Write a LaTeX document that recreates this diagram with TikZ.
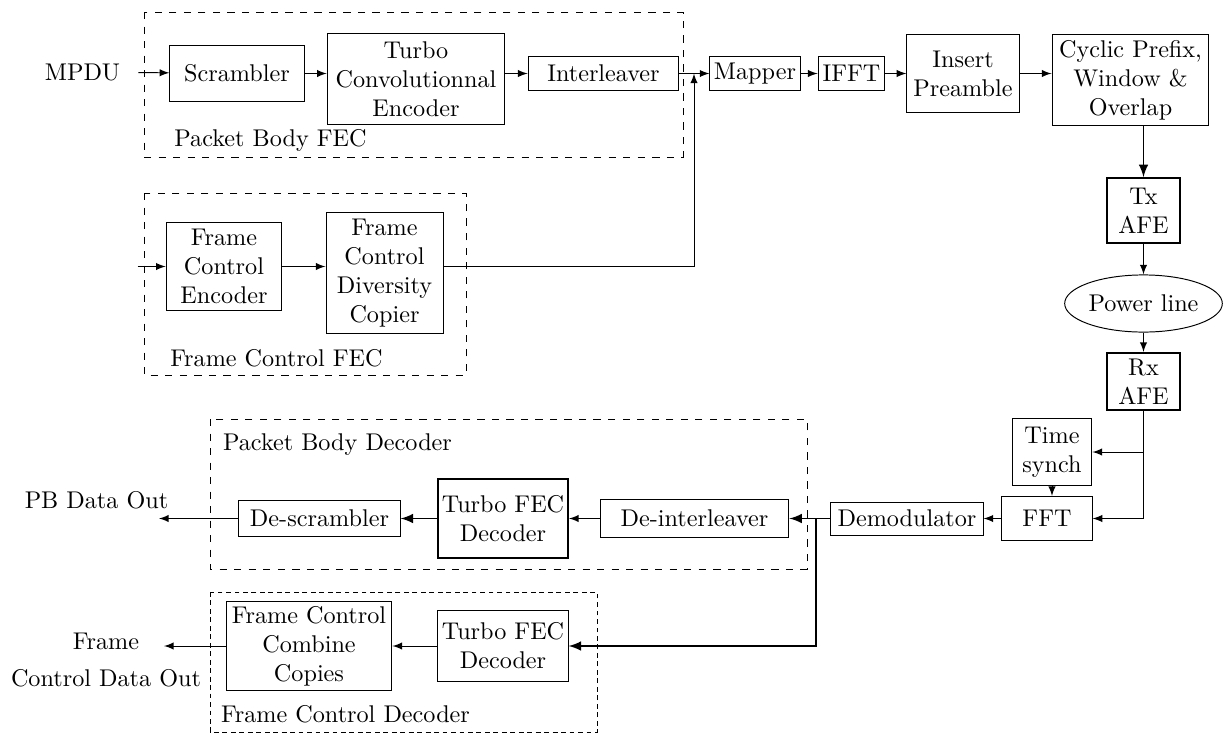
\documentclass[tikz,border=0pt]{standalone}
\usetikzlibrary{shapes.geometric}

\begin{document}
\begin{tikzpicture}[
      x=0.01452cm, y=-0.01452cm,
      blk/.style ={draw,align=center,inner sep=1pt},
      fatblk/.style ={blk,thick},
      grp/.style ={dashed},
      arr/.style ={->,>=latex},
      fatarr/.style ={arr,thick}
      ]
    \useasboundingbox (0,0) rectangle (1223,733);
    % transmitter
    \node (mpdu) at (82.5,72) {MPDU};
    \node[blk,minimum width=1.95cm,minimum height=0.80cm] (scr) at (237,73.5) {Scrambler};
    \node[blk,minimum width=2.58cm,minimum height=1.31cm] (tce) at (416,79) {Turbo\\Convolutionnal\\Encoder};
    \node[blk,minimum width=2.19cm,minimum height=0.48cm] (intl) at (603.5,73.5) {Interleaver};
    \node[blk,minimum width=1.31cm,minimum height=0.48cm] (mapper) at (755,73.5) {Mapper};
    \node[blk,minimum width=0.97cm,minimum height=0.48cm] (ifft) at (851.5,73.5) {IFFT};
    \node[blk,minimum width=1.63cm,minimum height=1.12cm] (preamble) at (963,73.5) {Insert\\Preamble};
    \node[blk,minimum width=2.28cm,minimum height=1.31cm] (cyclic) at (1130.5,80) {Cyclic Prefix,\\Window \&\\Overlap};
    \node[fatblk,minimum width=1.06cm,minimum height=0.94cm] (txafe) at (1143.5,210.5) {Tx\\AFE};
    \node[draw,ellipse,inner sep=0pt,minimum width=2.29cm,minimum height=0.83cm] (pline) at (1143.5,303.5) {Power line};
    \node[fatblk,minimum width=1.06cm,minimum height=0.83cm] (rxafe) at (1143.5,381.5) {Rx\\AFE};
    \node[blk,minimum width=1.16cm,minimum height=0.96cm] (tsync) at (1052,452) {Time\\synch};
    \node[blk,minimum width=1.31cm,minimum height=0.64cm] (fft) at (1047,518.5) {FFT};
    \node[blk,minimum width=2.21cm,minimum height=0.48cm] (demod) at (907,518.5) {Demodulator};
    \node[blk,minimum width=1.68cm,minimum height=1.29cm] (fcenc) at (224,266.5) {Frame\\Control\\Encoder};
    \node[blk,minimum width=1.70cm,minimum height=1.77cm] (fccopy) at (384.5,273) {Frame\\Control\\Diversity\\Copier};
    \coordinate (fcin) at (137.5,266.5);
    \coordinate (merge) at (694,73.5);
    % receiver
    \node[blk,minimum width=2.74cm,minimum height=0.54cm] (deintl) at (694.5,518.5) {De-interleaver};
    \node[fatblk,minimum width=1.89cm,minimum height=1.16cm] (tfecpb) at (503,518.5) {Turbo FEC\\Decoder};
    \node[blk,minimum width=2.34cm,minimum height=0.52cm] (descr) at (319.5,518.5) {De-scrambler};
    \node (pbout) at (96.5,500) {PB Data Out};
    \coordinate (pbend) at (159,518.5);
    \node[blk,minimum width=1.89cm,minimum height=1.03cm] (tfecfc) at (503,646) {Turbo FEC\\Decoder};
    \node[blk,minimum width=2.41cm,minimum height=1.28cm] (fccomb) at (309,646) {Frame Control\\Combine\\Copies};
    \node[align=center] (fcout) at (106,660) {Frame\\[3pt]Control Data Out};
    \coordinate (fcend) at (164,646);
    \coordinate (split) at (816,518.5);
    % groups
    \draw[grp] (144,12) rectangle (683,157);
    \node (pbfec) at (270.5,140) {Packet Body FEC};
    \draw[grp] (144,193) rectangle (466,375);
    \node (fcfec) at (276.5,358) {Frame Control FEC};
    \draw[grp] (210,419) rectangle (807,569);
    \node (pbdec) at (337.5,445) {Packet Body Decoder};
    \draw[dash pattern=on 2pt off 1.5pt] (210,592) rectangle (597,732);
    \node (fcdec) at (345.5,714) {Frame Control Decoder};
    % connections
    \draw[arr,shorten <=4pt] (mpdu) -- (scr);
    \draw[arr] (scr) -- (scr -| tce.west);
    \draw[arr] (intl -| tce.east) -- (intl);
    \draw[arr] (intl) -- (mapper);
    \draw[arr] (mapper) -- (ifft);
    \draw[arr] (ifft) -- (preamble);
    \draw[arr] (preamble) -- (preamble -| cyclic.west);
    \draw[fatarr] (cyclic.south -| txafe) -- (txafe);
    \draw[arr] (txafe) -- (pline);
    \draw[arr] (pline) -- (rxafe);
    \draw[arr] (rxafe) -- (rxafe |- fft) -- (fft);
    \draw[arr] (rxafe |- tsync) -- (tsync);
    \draw[arr] (tsync) -- (tsync |- fft.north);
    \draw[arr] (fft) -- (demod);
    \draw[fatarr] (demod) -- (deintl);
    \draw[fatarr] (split) |- (tfecfc);
    \draw[arr] (deintl) -- (tfecpb);
    \draw[fatarr] (tfecpb) -- (descr);
    \draw[arr] (descr) -- (pbend);
    \draw[arr] (fcin) -- (fcenc);
    \draw[arr] (fcenc) -- (fcenc -| fccopy.west);
    \draw[arr] (fcenc -| fccopy.east) -| (merge);
    \draw[arr] (tfecfc) -- (fccomb);
    \draw[arr] (fccomb) -- (fcend);
\end{tikzpicture}
\end{document}
